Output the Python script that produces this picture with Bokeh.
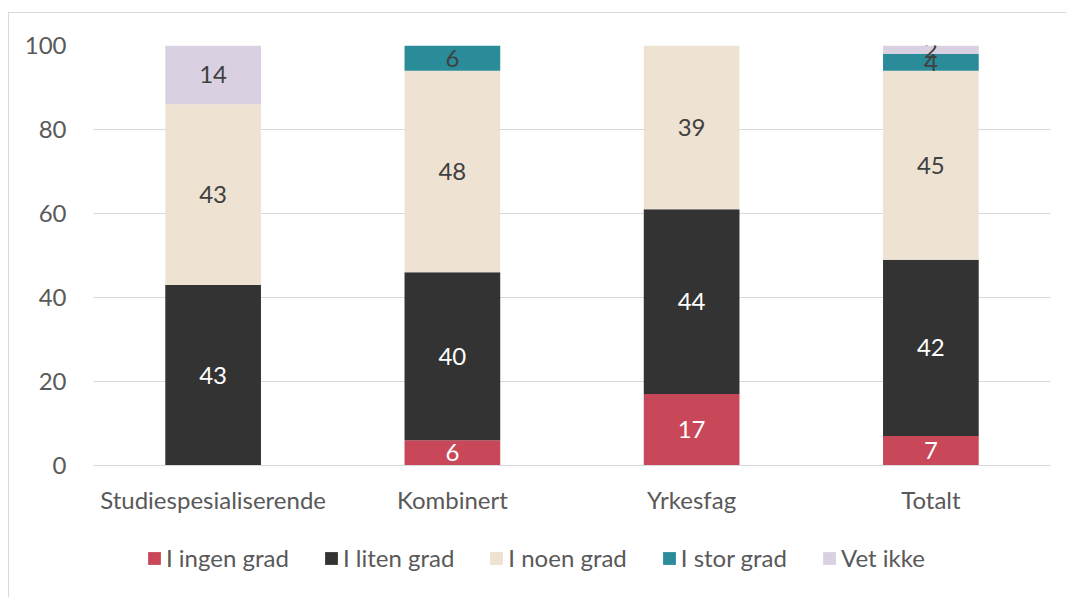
from bokeh.plotting import figure
from bokeh.models import ColumnDataSource, LabelSet, Legend, LegendItem, FactorRange
from bokeh.layouts import column
from bokeh.core.properties import value
from bokeh.embed import file_html
from bokeh.resources import INLINE

categories = ["Studiespesialiserende", "Kombinert", "Yrkesfag", "Totalt"]
series = ["I ingen grad", "I liten grad", "I noen grad", "I stor grad", "Vet ikke"]
ingen = [0, 6, 17, 7]
liten = [43, 40, 44, 42]
noen = [43, 48, 39, 45]
stor = [0, 6, 0, 4]
vet = [14, 0, 0, 2]
colors = ["#C8485A", "#333333", "#EEE2D3", "#2A8B99", "#D9D1E1"]
label_colors = ["#ffffff", "#ffffff", "#404040", "#404040", "#404040"]
yticks = [0, 20, 40, 60, 80, 100]

FONT = "Lato"
FS = "24px"
keys = ["ingen", "liten", "noen", "stor", "vet"]
values = [ingen, liten, noen, stor, vet]
data = {"cat": categories}
for k, v in zip(keys, values):
    data[k] = v
source = ColumnDataSource(data)

p = figure(x_range=FactorRange(*categories), y_range=(0, 100),
           width=1057, height=512, output_backend="svg", toolbar_location=None,
           min_border_left=84, min_border_right=16, min_border_top=32, min_border_bottom=60)
p.outline_line_color = None
p.background_fill_color = "white"

renderers = p.vbar_stack(keys, x="cat", width=0.4, source=source, color=colors,
                         line_color=None)

for i, (k, v) in enumerate(zip(keys, values)):
    base = [sum(values[j][c] for j in range(i)) for c in range(len(categories))]
    ys = [b + val / 2 for b, val in zip(base, v)]
    txt = [str(val) if val > 0 else "" for val in v]
    ls = ColumnDataSource(dict(x=categories, y=ys, t=txt))
    p.add_layout(LabelSet(x="x", y="y", text="t", source=ls, text_align="center",
                          text_baseline="middle", text_color=label_colors[i],
                          text_font=value(FONT), text_font_size=value(FS)))

p.xgrid.grid_line_color = None
p.ygrid.grid_line_color = "#d9d9d9"
p.ygrid.grid_line_width = 1
p.yaxis.ticker = yticks
p.yaxis.axis_line_color = None
p.yaxis.major_tick_line_color = None
p.yaxis.minor_tick_line_color = None
p.yaxis.major_label_text_font = FONT
p.yaxis.major_label_text_font_size = FS
p.yaxis.major_label_text_color = "#595959"
p.yaxis.major_label_standoff = 21

p.xaxis.axis_line_color = "#d9d9d9"
p.xaxis.major_tick_line_color = None
p.xaxis.minor_tick_line_color = None
p.xaxis.major_tick_out = 0
p.xaxis.major_label_text_font = FONT
p.xaxis.major_label_text_font_size = FS
p.xaxis.major_label_text_color = "#595959"
p.xaxis.major_label_standoff = 19

# legend figure (dummy renderers with NaN coordinates: nothing drawn, only legend swatches)
p2 = figure(width=1057, height=72, output_backend="svg", toolbar_location=None,
            x_range=(0, 1), y_range=(0, 1), x_axis_location=None, y_axis_location=None,
            min_border=0)
p2.outline_line_color = None
p2.grid.visible = False
nan = float("nan")
dummies = []
for c in colors:
    src = ColumnDataSource(dict(l=[nan], r=[nan], b=[nan], t=[nan]))
    dummies.append(p2.quad(left="l", right="r", bottom="b", top="t", source=src,
                           fill_color=c, line_color=None))
legend = Legend(items=[LegendItem(label=s, renderers=[r]) for s, r in zip(series, dummies)],
                orientation="horizontal", location=(53, 25))
legend.label_text_font = FONT
legend.label_text_font_size = FS
legend.label_text_color = "#595959"
legend.glyph_width = 16
legend.glyph_height = 16
legend.label_standoff = 4
legend.spacing = 34
legend.border_line_color = None
legend.background_fill_alpha = 0
legend.padding = 0
legend.margin = 0
p2.add_layout(legend, "center")

layout = column(p, p2, spacing=0)
layout.styles = {"border-top": "1px solid #d9d9d9", "border-left": "1px solid #d9d9d9",
                 "margin-top": "12px", "margin-left": "8px"}

open("out.html", "w").write(file_html(layout, INLINE))
